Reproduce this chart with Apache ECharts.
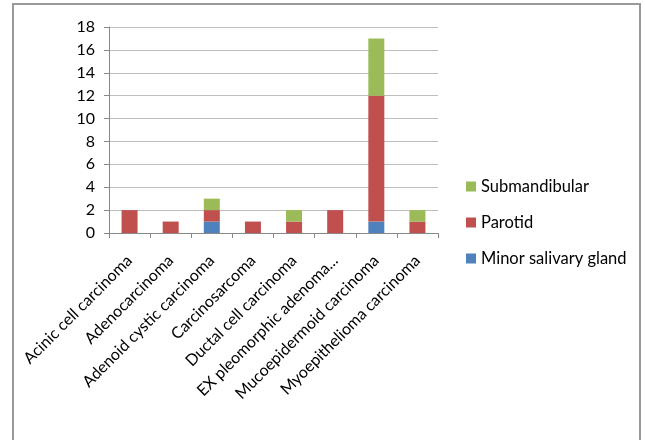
<!DOCTYPE html>
<html>
<head>
<meta charset="utf-8">
<script src="https://cdn.jsdelivr.net/npm/echarts@6/dist/echarts.min.js"></script>
<style>
  html, body { margin: 0; padding: 0; background: #fff; }
  #chart { width: 645px; height: 440px; }
</style>
</head>
<body>
<div id="chart"></div>
<script>
// Salivary gland tumour types by site of origin
const categories = [
  'Acinic cell carcinoma',
  'Adenocarcinoma',
  'Adenoid cystic carcinoma',
  'Carcinosarcoma',
  'Ductal cell carcinoma',
  'EX pleomorphic adenoma carcinoma',
  'Mucoepidermoid carcinoma',
  'Myoepithelioma carcinoma'
];
const minorSalivaryGland = [0, 0, 1, 0, 0, 0, 1, 0];
const parotid            = [2, 1, 1, 1, 1, 2, 11, 1];
const submandibular      = [0, 0, 1, 0, 1, 0, 5, 1];
const yTicks = [0, 2, 4, 6, 8, 10, 12, 14, 16, 18];

const FONT = 'Lato';
const chart = echarts.init(document.getElementById('chart'), null, { renderer: 'canvas' });

chart.setOption({
  animation: false,
  backgroundColor: '#fff',
  textStyle: { fontFamily: FONT },
  graphic: [{
    type: 'rect',
    shape: { x: 13, y: 4, width: 627, height: 460 },
    style: { fill: 'none', stroke: '#999', lineWidth: 2 },
    silent: true
  }],
  grid: { left: 109, right: 207, top: 27, bottom: 207, containLabel: false },
  legend: {
    orient: 'vertical',
    left: 466,
    top: 178,
    padding: 0,
    itemWidth: 10,
    itemHeight: 10,
    itemGap: 19,
    icon: 'rect',
    data: ['Submandibular', 'Parotid', 'Minor salivary gland'],
    textStyle: { fontFamily: FONT, fontSize: 16.5, color: '#000' }
  },
  xAxis: {
    type: 'category',
    data: categories,
    axisLine: { lineStyle: { color: '#888', width: 1 } },
    axisTick: { show: true, length: 5, lineStyle: { color: '#888' } },
    axisLabel: {
      rotate: 45,
      interval: 0,
      margin: 25,
      fontFamily: FONT,
      fontSize: 16,
      color: '#000',
      formatter: function (v) {
        return v.length > 24 ? v.slice(0, 22) + '...' : v;
      }
    }
  },
  yAxis: {
    type: 'value',
    min: yTicks[0],
    max: yTicks[yTicks.length - 1],
    interval: 2,
    axisLine: { show: true, lineStyle: { color: '#888', width: 1 } },
    axisTick: { show: true, length: 5, lineStyle: { color: '#888' } },
    axisLabel: { fontFamily: FONT, fontSize: 16, color: '#000', margin: 14 },
    splitLine: { show: true, lineStyle: { color: '#bdbdbd', width: 1 } }
  },
  series: [
    {
      name: 'Minor salivary gland', type: 'bar', stack: 'site',
      data: minorSalivaryGland, barWidth: 16,
      itemStyle: { color: '#4F81BD' }
    },
    {
      name: 'Parotid', type: 'bar', stack: 'site',
      data: parotid, barWidth: 16,
      itemStyle: { color: '#C0504D' }
    },
    {
      name: 'Submandibular', type: 'bar', stack: 'site',
      data: submandibular, barWidth: 16,
      itemStyle: { color: '#9BBB59' }
    }
  ]
});
</script>
</body>
</html>
